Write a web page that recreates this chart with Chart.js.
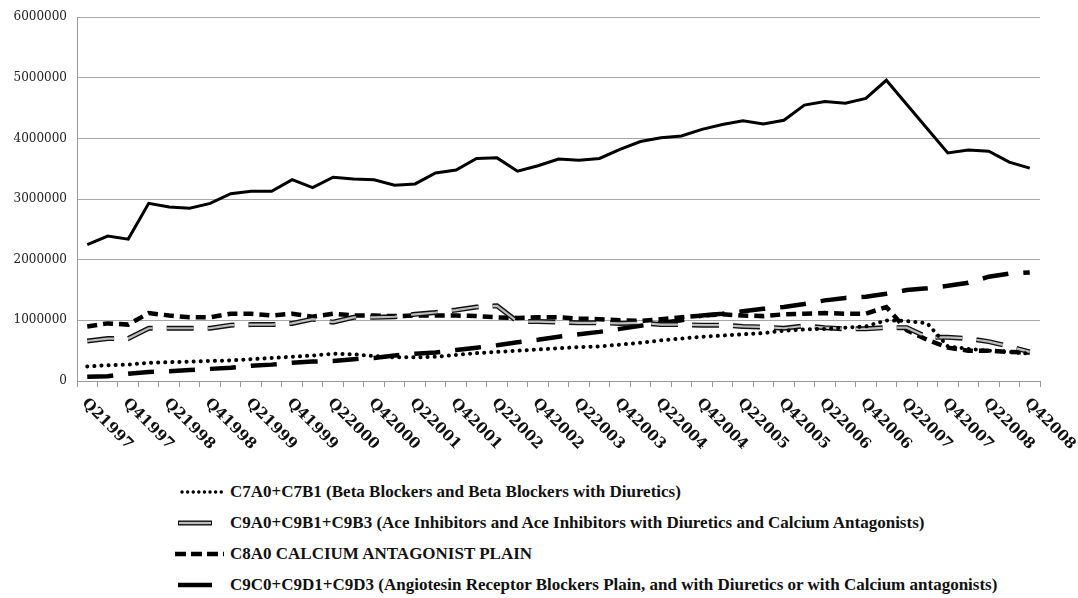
<!DOCTYPE html>
<html>
<head>
<meta charset="utf-8">
<title>Antihypertensive sales by quarter</title>
<script src="https://cdn.jsdelivr.net/npm/chart.js@4/dist/chart.umd.min.js"></script>
<style>
  html, body { margin: 0; padding: 0; background: #fff; }
  #wrap { position: relative; width: 1078px; height: 598px; overflow: hidden; }
  #box { position: absolute; left: 0; top: 0; width: 1078px; height: 470px; }
  #legend { position: absolute; left: 172px; top: 476px; font-family: "Liberation Serif", "Times New Roman", serif; font-weight: 700; font-size: 17px; color: #111; }
  .row { height: 31px; display: flex; align-items: center; white-space: nowrap; }
  .row svg { width: 52px; height: 12px; margin-right: 6px; flex: none; }
</style>
</head>
<body>
<div id="wrap">
  <div id="box"><canvas id="chart"></canvas></div>
  <div id="legend"></div>
</div>
<script>
(() => {
  'use strict'

  const quarters = [
    'Q21997', 'Q31997', 'Q41997',
    'Q11998', 'Q21998', 'Q31998', 'Q41998',
    'Q11999', 'Q21999', 'Q31999', 'Q41999',
    'Q12000', 'Q22000', 'Q32000', 'Q42000',
    'Q12001', 'Q22001', 'Q32001', 'Q42001',
    'Q12002', 'Q22002', 'Q32002', 'Q42002',
    'Q12003', 'Q22003', 'Q32003', 'Q42003',
    'Q12004', 'Q22004', 'Q32004', 'Q42004',
    'Q12005', 'Q22005', 'Q32005', 'Q42005',
    'Q12006', 'Q22006', 'Q32006', 'Q42006',
    'Q12007', 'Q22007', 'Q32007', 'Q42007',
    'Q12008', 'Q22008', 'Q32008', 'Q42008'
  ]

  const yTicks = [0, 1000000, 2000000, 3000000, 4000000, 5000000, 6000000]

  const seriesNames = [
    'C7A0+C7B1 (Beta Blockers and Beta Blockers with Diuretics)',
    'C9A0+C9B1+C9B3 (Ace Inhibitors and Ace Inhibitors with Diuretics and Calcium Antagonists)',
    'C8A0  CALCIUM ANTAGONIST PLAIN',
    'C9C0+C9D1+C9D3 (Angiotesin Receptor Blockers Plain, and with Diuretics or with Calcium antagonists)'
  ]

  // total of all groups (no legend entry)
  const total = [
    2250000, 2390000, 2340000, 2930000, 2870000, 2850000, 2930000, 3090000,
    3130000, 3130000, 3320000, 3190000, 3360000, 3330000, 3320000, 3230000,
    3250000, 3430000, 3480000, 3670000, 3680000, 3460000, 3550000, 3660000,
    3640000, 3670000, 3820000, 3950000, 4010000, 4040000, 4150000, 4230000,
    4290000, 4240000, 4300000, 4550000, 4610000, 4580000, 4660000, 4960000,
    4560000, 4160000, 3760000, 3810000, 3790000, 3610000, 3510000
  ]

  const betaBlockers = [
    240000, 260000, 270000, 300000, 310000, 320000, 330000, 340000,
    360000, 380000, 400000, 420000, 450000, 440000, 410000, 390000,
    390000, 400000, 430000, 460000, 480000, 500000, 520000, 540000,
    560000, 570000, 600000, 630000, 670000, 700000, 730000, 750000,
    770000, 790000, 830000, 850000, 860000, 880000, 900000, 1000000,
    990000, 950000, 570000, 530000, 500000, 480000, 450000
  ]

  const aceInhibitors = [
    660000, 700000, 700000, 870000, 870000, 870000, 870000, 920000,
    930000, 930000, 950000, 1020000, 970000, 1050000, 1050000, 1060000,
    1100000, 1130000, 1170000, 1220000, 1240000, 980000, 980000, 970000,
    960000, 960000, 950000, 960000, 930000, 930000, 920000, 920000,
    900000, 890000, 870000, 910000, 880000, 860000, 860000, 880000,
    880000, 720000, 720000, 700000, 650000, 570000, 480000
  ]

  const calciumAntagonists = [
    900000, 950000, 930000, 1120000, 1080000, 1050000, 1050000, 1110000,
    1110000, 1080000, 1110000, 1060000, 1110000, 1080000, 1080000, 1070000,
    1080000, 1080000, 1080000, 1070000, 1050000, 1040000, 1050000, 1050000,
    1030000, 1020000, 1000000, 990000, 1020000, 1050000, 1080000, 1100000,
    1080000, 1070000, 1100000, 1110000, 1120000, 1110000, 1110000, 1220000,
    840000, 680000, 550000, 500000, 500000, 480000, 470000
  ]

  const arbs = [
    70000, 80000, 120000, 150000, 160000, 180000, 200000, 220000,
    250000, 270000, 300000, 320000, 330000, 360000, 380000, 420000,
    450000, 470000, 510000, 550000, 590000, 640000, 680000, 730000,
    770000, 810000, 860000, 910000, 960000, 1000000, 1080000, 1110000,
    1150000, 1190000, 1220000, 1270000, 1330000, 1370000, 1390000, 1440000,
    1500000, 1530000, 1570000, 1620000, 1720000, 1770000, 1790000
  ]

  const base = { pointRadius: 0, pointHoverRadius: 0, tension: 0, fill: false }

  // quarter labels drawn rotated clockwise below the axis
  const rotatedLabels = {
    id: 'rotatedLabels',
    afterDraw (chart) {
      const xs = chart.scales.x
      const ctx = chart.ctx
      ctx.save()
      ctx.font = 'bold 15px "DejaVu Serif"'
      ctx.fillStyle = '#111'
      ctx.textAlign = 'left'
      ctx.textBaseline = 'middle'
      quarters.forEach((q, i) => {
        if (i % 2) return
        ctx.save()
        ctx.translate(xs.getPixelForTick(i) - 3, xs.top + 20)
        ctx.rotate(Math.PI / 4)
        ctx.fillText(q, 0, 0)
        ctx.restore()
      })
      ctx.restore()
    }
  }

  const ctx = document.getElementById('chart')
  // eslint-disable-next-line no-unused-vars
  const chart = new Chart(ctx, {
    type: 'line',
    data: {
      labels: quarters,
      datasets: [
        Object.assign({ data: total, borderColor: '#000', borderWidth: 3 }, base),
        Object.assign({ data: betaBlockers, borderColor: '#000', borderWidth: 4, borderDash: [0.1, 7], borderCapStyle: 'round' }, base),
        Object.assign({ data: aceInhibitors, borderColor: '#bdbdbd', borderWidth: 2.2, borderDash: [27, 14] }, base),
        Object.assign({ data: aceInhibitors, borderColor: '#111', borderWidth: 5, borderDash: [27, 14] }, base),
        Object.assign({ data: calciumAntagonists, borderColor: '#000', borderWidth: 4.5, borderDash: [10, 6] }, base),
        Object.assign({ data: arbs, borderColor: '#000', borderWidth: 4.5, borderDash: [26, 15] }, base)
      ]
    },
    options: {
      responsive: true,
      maintainAspectRatio: false,
      animation: false,
      layout: { padding: { left: 9, right: 38, top: 16, bottom: 0 } },
      plugins: {
        legend: { display: false },
        tooltip: { enabled: false }
      },
      scales: {
        x: {
          offset: true,
          grid: { offset: true, drawOnChartArea: false, drawTicks: true, tickLength: 6, color: '#999' },
          border: { color: '#999' },
          ticks: { display: false, autoSkip: false },
          afterFit (scale) { scale.height = 89 }
        },
        y: {
          min: 0,
          max: 6000000,
          afterBuildTicks (scale) { scale.ticks = yTicks.map(v => ({ value: v })) },
          afterFit (scale) { scale.width = 68 },
          grid: { color: '#a6a6a6', drawTicks: false },
          border: { color: '#999' },
          ticks: {
            padding: 10,
            color: '#222',
            font: { family: 'DejaVu Serif', size: 12 },
            callback: v => String(v)
          }
        }
      }
    },
    plugins: [rotatedLabels]
  })

  // legend, one entry per row
  const symbols = [
    '<svg viewBox="0 0 52 12"><line x1="10" y1="6" x2="52" y2="6" stroke="#000" stroke-width="3.4" stroke-linecap="round" stroke-dasharray="0.1 5.5"/></svg>',
    '<svg viewBox="0 0 52 12"><line x1="6" y1="6" x2="40" y2="6" stroke="#111" stroke-width="5"/><line x1="7" y1="6" x2="39" y2="6" stroke="#bdbdbd" stroke-width="2.2"/></svg>',
    '<svg viewBox="0 0 52 12"><line x1="3" y1="6" x2="52" y2="6" stroke="#000" stroke-width="4.5" stroke-dasharray="11 5"/></svg>',
    '<svg viewBox="0 0 52 12"><line x1="6" y1="6" x2="40" y2="6" stroke="#000" stroke-width="4.5"/></svg>'
  ]
  document.getElementById('legend').innerHTML = seriesNames.map((name, i) =>
    '<div class="row">' + symbols[i] + '<span>' + name + '</span></div>'
  ).join('')
})()
</script>
</body>
</html>
